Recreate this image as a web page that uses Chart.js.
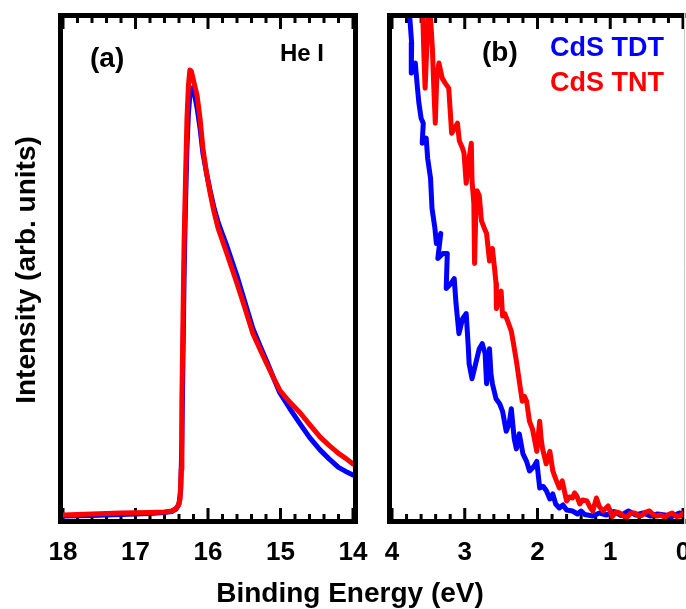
<!DOCTYPE html>
<html>
<head>
<meta charset="utf-8">
<script src="https://cdn.jsdelivr.net/npm/chart.js@4.4.1/dist/chart.umd.min.js"></script>
<style>
  body { margin: 0; background: #fff; width: 686px; height: 609px; overflow: hidden; position: relative; }
  canvas { position: absolute; top: 0; }
  .txt { position: absolute; font-family: 'Liberation Sans', Arial, sans-serif; font-weight: bold; white-space: nowrap; }
</style>
</head>
<body>
<canvas id="chartA" width="400" height="609" style="left:0"></canvas>
<canvas id="chartB" width="400" height="609" style="left:340px"></canvas>

<div class="txt" style="left:90px; top:44px; font-size:28px; line-height:28px;">(a)</div>
<div class="txt" style="left:280px; top:41px; font-size:24px; line-height:24px;">He I</div>
<div class="txt" style="left:482px; top:38px; font-size:28px; line-height:28px;">(b)</div>
<div class="txt" style="left:550px; top:34px; font-size:27px; line-height:27px; color:#0000ff;">CdS TDT</div>
<div class="txt" style="left:550px; top:69px; font-size:27px; line-height:27px; color:#ff0000;">CdS TNT</div>
<div class="txt" style="left:150px; width:400px; text-align:center; top:579px; font-size:28px; line-height:28px;">Binding Energy (eV)</div>
<div class="txt" style="left:-124px; width:300px; text-align:center; top:256px; font-size:28px; line-height:28px; transform:rotate(-90deg);">Intensity (arb. units)</div>

<script>
// (a) He I 전체 스펙트럼
const aTntE = [18.0, 17.6, 17.2, 16.8, 16.6, 16.5, 16.45, 16.41, 16.385, 16.37, 16.36, 16.345, 16.33, 16.31, 16.29, 16.27, 16.25, 16.23, 16.2, 16.15, 16.11, 16.07, 16.02, 15.97, 15.92, 15.86, 15.8, 15.74, 15.67, 15.6, 15.5, 15.38, 15.28, 15.19, 15.1, 15.01, 14.87, 14.73, 14.6, 14.455, 14.33, 14.2, 14.1, 14.0];
const aTntI = [0.8, 1.0, 1.2, 1.3, 1.4, 1.6, 2.0, 2.7, 4, 10, 24, 40, 55, 68, 80, 86.5, 89.6, 89.4, 87.5, 84.5, 80, 74, 69, 65, 61.5, 58, 55.5, 53, 50, 47, 42.5, 37, 33.8, 31, 28.3, 25.7, 23.3, 21.2, 18.9, 16.4, 14.7, 13.1, 12.1, 11];
const aTdtE = [18.0, 17.6, 17.2, 16.8, 16.6, 16.5, 16.44, 16.4, 16.375, 16.36, 16.345, 16.33, 16.31, 16.29, 16.27, 16.25, 16.22, 16.19, 16.15, 16.11, 16.07, 16.02, 15.97, 15.92, 15.86, 15.8, 15.74, 15.67, 15.6, 15.5, 15.38, 15.28, 15.19, 15.1, 15.01, 14.87, 14.73, 14.6, 14.455, 14.33, 14.2, 14.1, 14.0];
const aTdtI = [0.6, 0.7, 0.9, 1.1, 1.3, 1.5, 2.0, 3.0, 6, 16, 32, 48, 63, 74, 81, 84.5, 86, 85, 82, 78, 73, 69, 65.5, 62.3, 59.2, 56.8, 54.5, 51.5, 48.5, 43.7, 38, 34.5, 31.5, 28.3, 25.2, 22, 19, 16.3, 13.8, 12, 10.3, 9.5, 8.8];

// (b) 가전자대 끝 부분
const bTntE = [3.58, 3.56, 3.545, 3.525, 3.5, 3.47, 3.445, 3.425, 3.405, 3.385, 3.355, 3.31, 3.27, 3.22, 3.18, 3.14, 3.1, 3.075, 3.03, 3.01, 2.98, 2.95, 2.91, 2.9, 2.875, 2.865, 2.85, 2.83, 2.8, 2.77, 2.73, 2.7, 2.66, 2.62, 2.59, 2.57, 2.565, 2.53, 2.5, 2.48, 2.45, 2.41, 2.36, 2.33, 2.29, 2.25, 2.21, 2.18, 2.15, 2.11, 2.07, 2.03, 2.01, 1.97, 1.95, 1.93, 1.88, 1.85, 1.83, 1.79, 1.75, 1.7, 1.66, 1.6, 1.56, 1.52, 1.49, 1.46, 1.42, 1.38, 1.32, 1.28, 1.24, 1.19, 1.15, 1.1, 1.03, 0.97, 0.92, 0.87, 0.82, 0.77, 0.72, 0.66, 0.61, 0.57, 0.52, 0.46, 0.41, 0.36, 0.3, 0.25, 0.2, 0.15, 0.09, 0.04, -0.02];
const bTntI = [102, 92, 86, 93, 101, 100, 94, 86, 79, 88, 91, 88, 87, 86, 77, 78, 79, 75.5, 74, 73, 67, 71, 75, 67.5, 63, 51, 60, 65.5, 64.5, 59.5, 58, 57, 51.5, 54, 50, 47, 42, 44, 45.5, 40.5, 41, 39.5, 37.5, 35, 31.5, 27.5, 23.5, 24.5, 23.5, 19.5, 18, 15, 13.5, 19.5, 16, 14, 11, 12.5, 13.5, 9.6, 8, 6.2, 7.6, 3.6, 4.4, 4.2, 5.2, 4.6, 3, 3.8, 3.6, 2.4, 1.6, 4.2, 2.5, 1.6, 2.6, 0.5, 1.4, 1.2, 0.6, 0.3, 1.2, 1.2, 0.6, 0.7, 1.3, 1.6, 0.9, 0.6, 0.8, 0.3, 0.9, 1.2, 0.5, 0.6, 1.3];
const bTdtE = [3.76, 3.73, 3.735, 3.68, 3.65, 3.63, 3.6, 3.57, 3.585, 3.53, 3.51, 3.47, 3.45, 3.41, 3.39, 3.33, 3.37, 3.3, 3.24, 3.255, 3.19, 3.145, 3.12, 3.08, 3.03, 2.98, 2.95, 2.94, 2.9, 2.85, 2.8, 2.76, 2.72, 2.7, 2.66, 2.64, 2.62, 2.57, 2.52, 2.48, 2.43, 2.39, 2.36, 2.32, 2.29, 2.25, 2.2, 2.15, 2.11, 2.05, 2.01, 1.97, 1.92, 1.876, 1.83, 1.79, 1.75, 1.7, 1.65, 1.6, 1.52, 1.45, 1.4, 1.35, 1.24, 1.15, 1.05, 0.95, 0.85, 0.75, 0.65, 0.55, 0.45, 0.35, 0.25, 0.15, 0.05, -0.02];
const bTdtI = [101, 95, 89, 91, 86, 83, 80, 79, 75, 76, 72, 68, 62, 58, 55, 57, 52, 53, 53, 46, 47, 48, 43, 37, 40, 41, 34, 31, 28, 31, 34, 35, 33, 27, 34, 29, 27, 24, 23, 21.5, 17.5, 19, 22, 16, 14, 17, 13, 11.5, 9.6, 10.5, 11.5, 6.2, 6.5, 5.6, 4, 5, 3, 2.2, 2.8, 1.8, 1.6, 1.0, 1.6, 0.9, 0.6, 1.2, 0.8, 1.5, 0.7, 1.6, 0.8, 1.2, 0.6, 1.0, 0.8, 0.5, 1.2, 1.0];

const toPoints = (xs, ys) => xs.map((x, i) => ({ x: x, y: ys[i] }));

// 안쪽 눈금 + 테두리
const framePlugin = {
  id: 'frame',
  beforeDatasetsDraw(chart) {
    const a = chart.chartArea;
    const ctx = chart.ctx;
    const sx = chart.scales.x;
    ctx.save();
    ctx.strokeStyle = '#000';
    ctx.lineWidth = 3;
    sx.ticks.forEach(t => {
      const px = sx.getPixelForValue(t.value);
      const major = Math.abs(t.value - Math.round(t.value)) < 1e-6;
      const len = major ? 11 : 5;
      ctx.beginPath();
      ctx.moveTo(px, a.bottom);
      ctx.lineTo(px, a.bottom - len);
      ctx.moveTo(px, a.top);
      ctx.lineTo(px, a.top + len);
      ctx.stroke();
    });
    ctx.restore();
  },
  afterDraw(chart, args, opts) {
    const a = chart.chartArea;
    const ctx = chart.ctx;
    ctx.save();
    ctx.strokeStyle = '#000';
    ctx.lineWidth = 5;
    ctx.lineCap = 'square';
    ctx.beginPath();
    if (opts.right) {
      ctx.rect(a.left - 2.5, a.top - 2.5, a.right - a.left + 5, a.bottom - a.top + 5);
    } else {
      ctx.moveTo(a.right, a.top - 2.5);
      ctx.lineTo(a.left - 2.5, a.top - 2.5);
      ctx.lineTo(a.left - 2.5, a.bottom + 2.5);
      ctx.lineTo(a.right, a.bottom + 2.5);
    }
    ctx.stroke();
    if (!opts.right) {
      ctx.strokeStyle = '#c8c8c8';
      ctx.lineWidth = 1;
      ctx.beginPath();
      ctx.moveTo(a.right + 1.5, a.top - 5);
      ctx.lineTo(a.right + 1.5, a.bottom + 5);
      ctx.stroke();
    }
    ctx.restore();
  },
};

function makeChart(id, xmin, xmax, red, blue, padding, rightBorder) {
  const ctx = document.getElementById(id).getContext('2d');
  return new Chart(ctx, {
    type: 'scatter',
    data: {
      datasets: [
        { label: 'CdS TNT', data: red, borderColor: '#ff0000' },
        { label: 'CdS TDT', data: blue, borderColor: '#0000ff' },
      ].map(d => Object.assign(d, {
        showLine: true,
        borderWidth: 5,
        pointRadius: 0,
        tension: 0,
        borderJoinStyle: 'round',
        borderCapStyle: 'round',
        clip: 0,
      })),
    },
    options: {
      responsive: false,
      animation: false,
      devicePixelRatio: 1,
      layout: { padding: padding },
      plugins: {
        legend: { display: false },
        tooltip: { enabled: false },
        frame: { right: rightBorder },
      },
      scales: {
        x: {
          type: 'linear',
          reverse: true,
          min: xmin,
          max: xmax,
          border: { display: false },
          grid: { display: false, drawTicks: false },
          afterFit: scale => { scale.height = 60; },
          ticks: {
            stepSize: 0.2,
            autoSkip: false,
            maxRotation: 0,
            minRotation: 0,
            padding: 18,
            color: '#000',
            font: { family: 'Liberation Sans', size: 26, weight: 'bold' },
            callback: function (value) {
              const r = Math.round(value);
              return Math.abs(value - r) < 1e-6 ? String(r) : '';
            },
          },
        },
        y: { display: false, min: 0, max: 100 },
      },
    },
    plugins: [framePlugin],
  });
}

makeChart('chartA', 14, 18, toPoints(aTntE, aTntI), toPoints(aTdtE, aTdtI),
  { left: 63, right: 47, top: 18, bottom: 30 }, true);
makeChart('chartB', 0, 4, toPoints(bTntE, bTntI), toPoints(bTdtE, bTdtI),
  { left: 52, right: 57, top: 18, bottom: 30 }, false);
</script>
</body>
</html>
